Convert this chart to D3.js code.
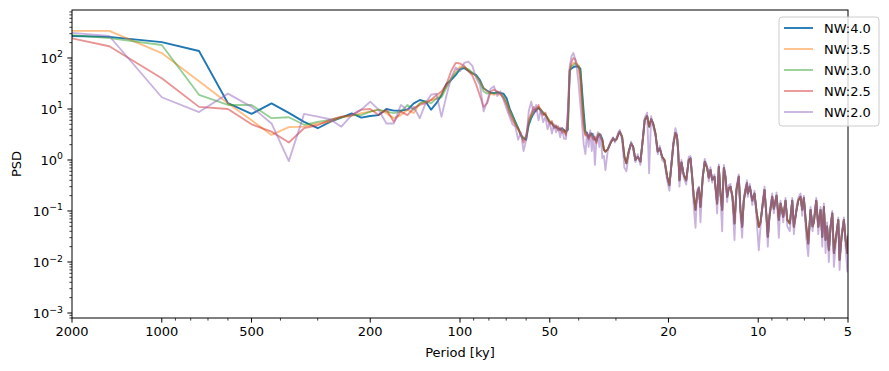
<!DOCTYPE html>
<html>
<head>
<meta charset="utf-8">
<script src="https://cdn.jsdelivr.net/npm/d3@7"></script>
<style>
  html, body { margin: 0; padding: 0; background: #fff; }
  svg { display: block; font-family: "DejaVu Sans", sans-serif; }
</style>
</head>
<body>
<svg id="chart" width="889" height="371"></svg>
<script>
// ============================================================
// Data — multitaper PSD for five time-bandwidth products
// ============================================================
const seriesNames = ['NW:4.0', 'NW:3.5', 'NW:3.0', 'NW:2.5', 'NW:2.0'];
const seriesColors = ['#1f77b4', '#ff7f0e', '#2ca02c', '#d62728', '#9467bd'];
const seriesAlpha = [1, 0.5, 0.5, 0.5, 0.5];

// record length (ky): low-frequency bins are k / recordLength
const recordLength = 3000;
const lowK = d3.range(1, 91);

// PSD at bins k = 1..90, one array per NW
const lowNW40 = [285, 260, 205, 137, 13, 8, 12.9, 8.4, 5.6, 4.2,
  5.6, 6.8, 8.2, 6.8, 7.3, 7.6, 10, 9.3, 9.3, 9.7,
  12.9, 15, 14, 9.7, 13, 18.8, 31, 37, 46, 60,
  63, 56, 50, 46, 37, 25.5, 22.8, 21, 20.5, 21,
  20.5, 20, 16.2, 10.3, 7.6, 5.6, 4.2, 3.1, 2.7, 2.5,
  4.9, 6.6, 8.2, 9.6, 10.3, 9.6, 8.5, 7.6, 6.6, 5.6,
  5.2, 4.6, 4.4, 4.2, 3.9, 4.2, 3.8, 3.6, 3.9, 58,
  62, 66, 68, 68, 66, 62, 22.8, 8.5, 3.6, 3.4,
  2.8, 3.1, 3.3, 2.9, 2.5, 2.4, 2.9, 3.2, 3.0, 2.6];
const lowNW35 = [340, 340, 125, 35, 13, 6, 3.1, 4.4, 4.5, 5.2,
  5.6, 6.9, 7.3, 8.3, 8.9, 9.7, 8.3, 6.6, 7.6, 9.7,
  8.3, 12.9, 14, 15, 16, 20, 28, 40, 55, 68,
  66, 58, 50, 44, 35, 26, 22, 20, 19, 20,
  19, 17, 13, 9.5, 7, 5.2, 4, 3.2, 2.6, 2.8,
  5.5, 7.2, 9, 10.5, 11, 10, 8.5, 7.5, 6.8, 5.8,
  5.0, 4.8, 4.2, 4.5, 3.8, 4.0, 3.5, 3.3, 4.5, 50,
  72, 80, 80, 76, 70, 45, 14, 5, 3.2, 3.0,
  2.6, 3.3, 3.0, 2.6, 2.7, 2.2, 3.1, 3.3, 2.8, 2.5];
const lowNW30 = [340, 245, 180, 19, 12, 12, 6.6, 6.9, 4.9, 5.6,
  6.1, 6.9, 7.6, 7.6, 8.9, 9.7, 8.9, 8.3, 8.9, 12,
  9.7, 12.9, 14, 13, 16, 17, 26, 38, 50, 62,
  65, 60, 52, 45, 33, 22, 20, 21, 20, 22,
  21, 18, 14, 9, 7, 5.3, 4.3, 3.0, 2.5, 3.0,
  5.2, 7.5, 9.5, 10, 10.8, 9.5, 8, 7.8, 6.5, 5.4,
  5.4, 4.4, 4.6, 4.0, 4.1, 3.7, 3.9, 3.2, 6, 55,
  70, 72, 78, 72, 70, 55, 18, 6, 3.4, 3.1,
  2.7, 3.2, 3.2, 2.7, 2.6, 2.3, 3.0, 3.3, 2.9, 2.4];
const lowNW25 = [400, 170, 40, 11, 10, 5, 3.6, 2.2, 4.2, 4.8,
  6.1, 7.1, 7.6, 9.7, 10, 7.6, 9.7, 5.6, 8.9, 7.6,
  10.4, 12, 13, 15, 18.8, 22, 30, 55, 80, 78,
  70, 55, 45, 30, 18, 11, 13, 22, 24, 22,
  20, 16, 12, 8, 6, 4.8, 4, 3.2, 2.2, 2.8,
  6.2, 8.2, 11, 9, 12, 8.5, 7.5, 8.5, 6, 5,
  5.8, 4.2, 4.8, 3.8, 4.3, 3.4, 3.9, 3.0, 8, 60,
  85, 100, 95, 75, 65, 35, 10, 4, 3.0, 3.3,
  2.5, 3.4, 2.8, 2.5, 2.9, 2.1, 3.2, 3.0, 2.6, 2.5];
const lowNW20 = [378, 270, 17, 8.7, 20, 11, 5.2, 0.95, 8, 7.1,
  6.3, 4.5, 7.6, 9.7, 13.9, 9.7, 5.2, 5.2, 12, 9.7,
  11, 6.6, 13, 19, 20, 7, 18, 40, 65, 55,
  80, 85, 70, 40, 30, 9, 14, 25, 28, 18,
  22, 15, 10, 7, 5, 4.5, 2.5, 3.5, 1.5, 2.5,
  9, 14, 8, 12, 6, 9.5, 5.5, 7, 4, 5.5,
  3.3, 5, 3.5, 4.6, 2.8, 4.2, 2.6, 2.6, 10, 70,
  110, 125, 95, 60, 30, 12, 5, 2, 1.3, 3.5,
  1.8, 3.8, 1.5, 3.3, 0.8, 2.5, 3.5, 1.8, 3.2, 1.1];

// high-frequency part (period < 33 ky): the tapers overlap here
const hfPeriod = [32.92, 32.54, 31.97, 31.31, 30.66, 30.24, 29.89, 29.44, 29.14, 28.61,
  28.10, 27.67, 27.18, 26.68, 26.27, 25.81, 25.35, 24.83, 24.32, 24.02,
  23.58, 23.22, 22.86, 22.51, 22.11, 21.73, 21.39, 21.00, 20.63, 20.20,
  19.85, 19.62, 19.24, 18.95, 18.73, 18.56, 18.37, 18.09, 17.77, 17.44,
  17.10, 16.87, 16.65, 16.45, 16.23, 16.02, 15.82, 15.62, 15.34, 15.11,
  14.83, 14.65, 14.46, 14.27, 14.02, 13.73, 13.56, 13.38, 13.21, 13.04,
  12.87, 12.71, 12.55, 12.39, 12.20, 12.01, 11.83, 11.62, 11.47, 11.32,
  11.18, 11.03, 10.905, 10.84, 10.67, 10.47, 10.29, 10.13, 9.954, 9.825,
  9.696, 9.526, 9.380, 9.286, 9.165, 8.976, 8.865, 8.682, 8.529, 8.418,
  8.244, 8.099, 7.993, 7.834, 7.690, 7.596, 7.439, 7.342, 7.213, 7.119,
  7.031, 6.902, 6.796, 6.676, 6.574, 6.508, 6.388, 6.290, 6.180, 6.099,
  6.024, 5.945, 5.877, 5.796, 5.720, 5.645, 5.576, 5.503, 5.390, 5.336,
  5.254, 5.161, 5.094, 5.027, 5.0, 4.96];
const hfShared = [1.6, 1.46, 1.62, 2.12, 2.66, 2.4, 2.54, 3.2, 3.6, 2.86,
  1.16, 0.86, 1.46, 2.12, 1.82, 1.0, 1.16, 0.93, 2.86, 6.1,
  7.3, 4.5, 6.3, 5.2, 3.3, 1.46, 1.7, 1.16, 1.0, 0.47,
  0.32, 0.64, 2.1, 3.4, 3.0, 1.57, 0.4, 0.9, 0.51, 0.4,
  1.0, 1.08, 0.47, 0.19, 0.105, 0.22, 0.28, 0.12, 0.47, 0.93,
  0.69, 0.45, 0.64, 0.41, 0.47, 0.14, 0.74, 0.22, 0.105, 0.7,
  0.45, 0.19, 0.28, 0.3, 0.19, 0.057, 0.26, 0.47, 0.105, 0.049,
  0.16, 0.26, 0.35, 0.22, 0.3, 0.16, 0.22, 0.097, 0.049, 0.06,
  0.113, 0.26, 0.077, 0.031, 0.08, 0.19, 0.11, 0.2, 0.067, 0.14,
  0.077, 0.16, 0.067, 0.057, 0.16, 0.049, 0.105, 0.16, 0.19, 0.105,
  0.18, 0.049, 0.023, 0.105, 0.05, 0.06, 0.16, 0.049, 0.105, 0.031,
  0.12, 0.027, 0.05, 0.017, 0.049, 0.09, 0.015, 0.027, 0.067, 0.011,
  0.031, 0.067, 0.027, 0.015, 0.031, 0.02];
const hfNW20 = [1.2, 0.63, 1.5, 2.3, 2.8, 2.2, 2.7, 3.5, 3.9, 2.5,
  0.7, 0.6, 1.3, 2.3, 1.6, 0.9, 1.3, 0.8, 3.2, 6.8,
  8.5, 0.55, 7.2, 4.6, 3.0, 1.3, 1.9, 1.0, 0.9, 0.4,
  0.25, 0.7, 2.4, 4.2, 3.2, 1.3, 0.3, 1.0, 0.45, 0.33,
  1.15, 1.2, 0.4, 0.12, 0.047, 0.25, 0.3, 0.06, 0.5, 1.05,
  0.75, 0.38, 0.72, 0.36, 0.52, 0.09, 0.82, 0.18, 0.04, 0.8,
  0.5, 0.15, 0.32, 0.34, 0.15, 0.027, 0.3, 0.52, 0.08, 0.03,
  0.18, 0.29, 0.4, 0.19, 0.34, 0.13, 0.25, 0.07, 0.017, 0.05,
  0.13, 0.3, 0.06, 0.02, 0.09, 0.22, 0.09, 0.23, 0.03, 0.16,
  0.06, 0.18, 0.05, 0.04, 0.18, 0.035, 0.12, 0.18, 0.22, 0.08,
  0.2, 0.03, 0.013, 0.12, 0.04, 0.07, 0.18, 0.035, 0.12, 0.02,
  0.14, 0.015, 0.06, 0.01, 0.05, 0.1, 0.008, 0.02, 0.075, 0.007,
  0.035, 0.075, 0.02, 0.0065, 0.035, 0.015];

const lowSeries = [lowNW40, lowNW35, lowNW30, lowNW25, lowNW20];
const highSeries = [hfShared, hfShared, hfShared, hfShared, hfNW20];

const xTicks = [2000, 1000, 500, 200, 100, 50, 20, 10, 5];
const yTicks = [-3, -2, -1, 0, 1, 2];

// ============================================================
// Layout
// ============================================================
const plot = { left: 72, right: 848, top: 10, bottom: 318 };
const FONT = 13;
const LW = 1.85;

const svg = d3.select('#chart');

const x = d3.scaleLog().domain([2000, 5]).range([plot.left, plot.right]);
const y = d3.scaleLog().domain([7.98e-4, 873]).range([plot.bottom, plot.top]);

svg.append('defs').append('clipPath').attr('id', 'plotClip')
  .append('rect')
  .attr('x', plot.left).attr('y', plot.top)
  .attr('width', plot.right - plot.left).attr('height', plot.bottom - plot.top);

// ============================================================
// Lines
// ============================================================
const line = d3.line().x(d => x(d.p)).y(d => y(d.v));

const lineLayer = svg.append('g').attr('clip-path', 'url(#plotClip)');
seriesNames.forEach((name, i) => {
  const pts = lowK.map((k, j) => ({ p: recordLength / k, v: lowSeries[i][j] }))
    .concat(hfPeriod.map((p, j) => ({ p, v: highSeries[i][j] })));
  lineLayer.append('path')
    .datum(pts)
    .attr('d', line)
    .attr('fill', 'none')
    .attr('stroke', seriesColors[i])
    .attr('stroke-opacity', seriesAlpha[i])
    .attr('stroke-width', LW)
    .attr('stroke-linejoin', 'round');
});

// ============================================================
// Axes (matplotlib look: box frame, outward ticks, log minors)
// ============================================================
const axis = svg.append('g').attr('stroke', '#000');

// x minor ticks: 2..9 x 10^n, minus the labelled ones
const xMinor = [];
[1, 10, 100, 1000].forEach(dec => {
  for (let m = 2; m <= 9; m++) {
    const v = m * dec;
    if (v >= 5 && v <= 2000 && !xTicks.includes(v)) xMinor.push(v);
  }
});
axis.selectAll('.xminor').data(xMinor).join('line')
  .attr('x1', d => x(d)).attr('x2', d => x(d))
  .attr('y1', plot.bottom).attr('y2', plot.bottom + 2.6)
  .attr('stroke-width', 0.75);
axis.selectAll('.xmajor').data(xTicks).join('line')
  .attr('x1', d => x(d)).attr('x2', d => x(d))
  .attr('y1', plot.bottom).attr('y2', plot.bottom + 4.6)
  .attr('stroke-width', 1);

// y minor ticks
const yMinor = [];
for (let e = -4; e <= 2; e++) {
  for (let m = 2; m <= 9; m++) {
    const v = m * Math.pow(10, e);
    if (v >= 7.98e-4 && v <= 873) yMinor.push(v);
  }
}
axis.selectAll('.yminor').data(yMinor).join('line')
  .attr('x1', plot.left - 2.6).attr('x2', plot.left)
  .attr('y1', d => y(d)).attr('y2', d => y(d))
  .attr('stroke-width', 0.75);
axis.selectAll('.ymajor').data(yTicks).join('line')
  .attr('x1', plot.left - 4.6).attr('x2', plot.left)
  .attr('y1', d => y(Math.pow(10, d))).attr('y2', d => y(Math.pow(10, d)))
  .attr('stroke-width', 1);

// frame
svg.append('rect')
  .attr('x', plot.left).attr('y', plot.top)
  .attr('width', plot.right - plot.left).attr('height', plot.bottom - plot.top)
  .attr('fill', 'none').attr('stroke', '#000').attr('stroke-width', 1);

// tick labels
svg.append('g').selectAll('text').data(xTicks).join('text')
  .attr('x', d => x(d)).attr('y', plot.bottom + 18)
  .attr('text-anchor', 'middle')
  .attr('font-size', FONT)
  .text(d => d);

const yLab = svg.append('g').selectAll('text').data(yTicks).join('text')
  .attr('x', plot.left - 9).attr('y', d => y(Math.pow(10, d)) + 5)
  .attr('text-anchor', 'end')
  .attr('font-size', FONT);
yLab.append('tspan').text('10');
yLab.append('tspan')
  .attr('dy', -5.5)
  .attr('font-size', 9.3)
  .text(d => (d < 0 ? '\u2212' + Math.abs(d) : d));

// axis titles
svg.append('text')
  .attr('x', (plot.left + plot.right) / 2).attr('y', 357)
  .attr('text-anchor', 'middle').attr('font-size', FONT)
  .text('Period [ky]');
svg.append('text')
  .attr('transform', `translate(21,${(plot.top + plot.bottom) / 2}) rotate(-90)`)
  .attr('text-anchor', 'middle').attr('font-size', FONT)
  .text('PSD');

// ============================================================
// Legend (upper right, pushed past the frame)
// ============================================================
const legend = svg.append('g').attr('transform', 'translate(779,17)');
legend.append('rect')
  .attr('width', 100).attr('height', 109).attr('rx', 3)
  .attr('fill', '#fff').attr('fill-opacity', 0.8)
  .attr('stroke', '#cccccc').attr('stroke-width', 1);
seriesNames.forEach((name, i) => {
  const cy = 11 + i * 21;
  legend.append('line')
    .attr('x1', 5).attr('x2', 34).attr('y1', cy).attr('y2', cy)
    .attr('stroke', seriesColors[i]).attr('stroke-opacity', seriesAlpha[i])
    .attr('stroke-width', LW);
  legend.append('text')
    .attr('x', 45).attr('y', cy + 4.5)
    .attr('font-size', FONT)
    .text(name);
});
</script>
</body>
</html>
